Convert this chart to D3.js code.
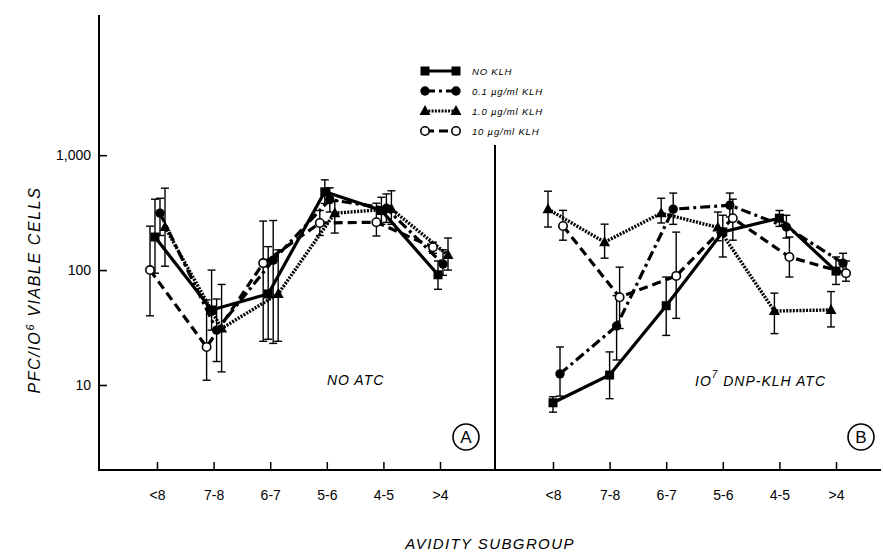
<!DOCTYPE html>
<html>
<head>
<meta charset="utf-8">
<script src="https://cdn.jsdelivr.net/npm/d3@7"></script>
<style>
  body { margin: 0; background: #fff; }
  svg text { font-family: "Liberation Sans", "DejaVu Sans", sans-serif; fill: #000; }
</style>
</head>
<body>
<div id="main"></div>
<script>
const width = 883;
const height = 559;

// categories and series
const groups = ["<8", "7-8", "6-7", "5-6", "4-5", ">4"];
const seriesNames = ["NO KLH", "0.1 \u00b5g/ml KLH", "1.0 \u00b5g/ml KLH", "10 \u00b5g/ml KLH"];
const yTicks = [10, 100, 1000];
const yTickLabels = ["10", "100", "1,000"];

// panel A : no ATC
const aNoKlh = [194, 45, 62, 480, 330, 91];
const aNoKlhHi = [414, 100, 160, 610, 430, 120];
const aNoKlhLo = [94, 30, 25, 380, 250, 68];
const aKlh01 = [313, 30, 122, 410, 345, 113];
const aKlh01Hi = [422, 56, 270, 520, 460, 150];
const aKlh01Lo = [200, 16, 23, 320, 260, 90];
const aKlh1 = [237, 31, 62, 313, 340, 135];
const aKlh1Hi = [516, 75, 150, 400, 490, 190];
const aKlh1Lo = [108, 13, 24, 210, 250, 100];
const aKlh10 = [100, 21.4, 115, 257, 261, 158];
const aKlh10Hi = [241, 55, 267, 330, 382, 175];
const aKlh10Lo = [40, 11, 24, 200, 198, 140];

// panel B : 10^7 DNP-KLH ATC
const bNoKlh = [7, 12.2, 49, 215, 283, 98];
const bNoKlhHi = [7.9, 19.4, 87, 300, 330, 130];
const bNoKlhLo = [5.8, 7.6, 27, 130, 240, 75];
const bKlh01 = [12.5, 32.6, 339, 367, 237, 115];
const bKlh01Hi = [21.4, 60, 468, 468, 300, 140];
const bKlh01Lo = [8, 16.5, 250, 290, 190, 95];
const bKlh1 = [339, 175, 313, 235, 44, 45];
const bKlh1Hi = [486, 251, 422, 320, 63, 65];
const bKlh1Lo = [237, 127, 257, 180, 28, 32];
const bKlh10 = [242, 58, 89, 283, 130, 94];
const bKlh10Hi = [331, 106, 214, 414, 194, 120];
const bKlh10Lo = [182, 31, 38, 182, 87, 80];

const panels = [
  { x0: 157, x1: 440, label: "NO ATC", letter: "A", dodge: [-2, 3, 8, -7],
    series: [[aNoKlh, aNoKlhLo, aNoKlhHi], [aKlh01, aKlh01Lo, aKlh01Hi], [aKlh1, aKlh1Lo, aKlh1Hi], [aKlh10, aKlh10Lo, aKlh10Hi]] },
  { x0: 553, x1: 836, label: "DNP-KLH ATC", letter: "B", dodge: [0, 7, -5, 10],
    series: [[bNoKlh, bNoKlhLo, bNoKlhHi], [bKlh01, bKlh01Lo, bKlh01Hi], [bKlh1, bKlh1Lo, bKlh1Hi], [bKlh10, bKlh10Lo, bKlh10Hi]] }
];

// line style per series
const styles = [
  { dash: null, marker: "square" },
  { dash: "10,4,3,4", marker: "circle" },
  { dash: "2,1.3", marker: "triangle" },
  { dash: "9,5", marker: "open" }
];

const svg = d3.select("#main").append("svg")
  .attr("width", width).attr("height", height);

const y = d3.scaleLog().domain([1.82, Math.pow(10, 4.22)]).range([470, 15]);

function drawMarker(g, type, cx, cy) {
  if (type === "square") {
    g.append("rect").attr("x", cx - 4.5).attr("y", cy - 4.5).attr("width", 9).attr("height", 9).attr("fill", "#000");
  } else if (type === "circle") {
    g.append("circle").attr("cx", cx).attr("cy", cy).attr("r", 4.7).attr("fill", "#000");
  } else if (type === "triangle") {
    g.append("path").attr("d", `M${cx},${cy - 6}L${cx + 5.5},${cy + 4}L${cx - 5.5},${cy + 4}Z`).attr("fill", "#000");
  } else {
    g.append("circle").attr("cx", cx).attr("cy", cy).attr("r", 4.2).attr("fill", "#fff").attr("stroke", "#000").attr("stroke-width", 1.6);
  }
}

// frame: y axis, x axis, divider
svg.append("line").attr("x1", 99).attr("x2", 99).attr("y1", 15).attr("y2", 470).attr("stroke", "#000").attr("stroke-width", 2);
svg.append("line").attr("x1", 98).attr("x2", 881).attr("y1", 470).attr("y2", 470).attr("stroke", "#000").attr("stroke-width", 2.2);
svg.append("line").attr("x1", 495).attr("x2", 495).attr("y1", 145).attr("y2", 470).attr("stroke", "#000").attr("stroke-width", 2);

const yAxis = svg.append("g").attr("transform", "translate(99,0)")
  .call(d3.axisLeft(y).tickValues(yTicks).tickFormat((d, i) => yTickLabels[i]).tickSizeInner(-8).tickSizeOuter(0).tickPadding(8));
yAxis.select(".domain").remove();
yAxis.selectAll("line").attr("stroke-width", 1.6);
yAxis.selectAll("text").attr("font-size", 14).style("font-family", "'Liberation Sans', sans-serif");

svg.append("text")
  .attr("transform", "translate(40,290) rotate(-90)")
  .attr("text-anchor", "middle")
  .attr("font-size", 16).attr("font-style", "italic").attr("letter-spacing", 1.6)
  .text("PFC/IO")
  .append("tspan").attr("dy", -6).attr("font-size", 11).text("6")
  .select(function () { return this.parentNode; })
  .append("tspan").attr("dy", 6).text(" VIABLE CELLS");

svg.append("text").attr("x", 490).attr("y", 549).attr("text-anchor", "middle")
  .attr("font-size", 15).attr("font-style", "italic").attr("letter-spacing", 1.4)
  .text("AVIDITY SUBGROUP");

panels.forEach((p, pi) => {
  const x = d3.scalePoint().domain(groups).range([p.x0, p.x1]);
  const xAxis = svg.append("g").attr("transform", "translate(0,470)")
    .call(d3.axisBottom(x).tickSizeInner(-8).tickSizeOuter(0).tickPadding(20));
  xAxis.select(".domain").remove();
  xAxis.selectAll("line").attr("stroke-width", 1.5);
  xAxis.selectAll("text").attr("font-size", 14).style("font-family", "'Liberation Sans', sans-serif");

  const g = svg.append("g");
  p.series.forEach((s, si) => {
    const st = styles[si];
    const pts = groups.map((k, i) => ({ x: x(k) + p.dodge[si], v: s[0][i], lo: s[1][i], hi: s[2][i] }));
    // error bars
    pts.forEach(d => {
      g.append("line").attr("x1", d.x).attr("x2", d.x).attr("y1", y(d.lo)).attr("y2", y(d.hi))
        .attr("stroke", "#000").attr("stroke-width", 1.4);
      [d.lo, d.hi].forEach(e => g.append("line").attr("x1", d.x - 4).attr("x2", d.x + 4)
        .attr("y1", y(e)).attr("y2", y(e)).attr("stroke", "#000").attr("stroke-width", 1.4));
    });
    g.append("path").datum(pts)
      .attr("d", d3.line().x(d => d.x).y(d => y(d.v)))
      .attr("fill", "none").attr("stroke", "#000")
      .attr("stroke-width", si === 2 ? 3.4 : 3.2)
      .attr("stroke-dasharray", st.dash);
    pts.forEach(d => drawMarker(g, st.marker, d.x, y(d.v)));
  });

  // panel annotation
  if (pi === 0) {
    svg.append("text").attr("x", 327).attr("y", 385).attr("font-size", 14).attr("font-style", "italic")
      .attr("letter-spacing", 1).text(p.label);
  } else {
    const t = svg.append("text").attr("x", 695).attr("y", 386).attr("font-size", 14).attr("font-style", "italic")
      .attr("letter-spacing", 1);
    t.append("tspan").text("IO");
    t.append("tspan").attr("dy", -8).attr("font-size", 10).text("7");
    t.append("tspan").attr("dy", 8).text(" " + p.label);
  }
  const cx = pi === 0 ? 466 : 861;
  svg.append("circle").attr("cx", cx).attr("cy", 437).attr("r", 13).attr("fill", "none").attr("stroke", "#000").attr("stroke-width", 1.6);
  svg.append("text").attr("x", cx).attr("y", 443).attr("text-anchor", "middle").attr("font-size", 17).text(p.letter);
});

// legend
const legend = svg.append("g");
seriesNames.forEach((name, i) => {
  const st = styles[i];
  const ly = 71 + i * 20;
  legend.append("line").attr("x1", 425).attr("x2", 456).attr("y1", ly).attr("y2", ly)
    .attr("stroke", "#000").attr("stroke-width", 3).attr("stroke-dasharray", st.dash);
  drawMarker(legend, st.marker, 425, ly);
  drawMarker(legend, st.marker, 456, ly);
  legend.append("text").attr("x", 472).attr("y", ly + 3.5).attr("font-size", 9.5).attr("font-style", "italic")
    .attr("letter-spacing", 0.8).text(name);
});
</script>
</body>
</html>
